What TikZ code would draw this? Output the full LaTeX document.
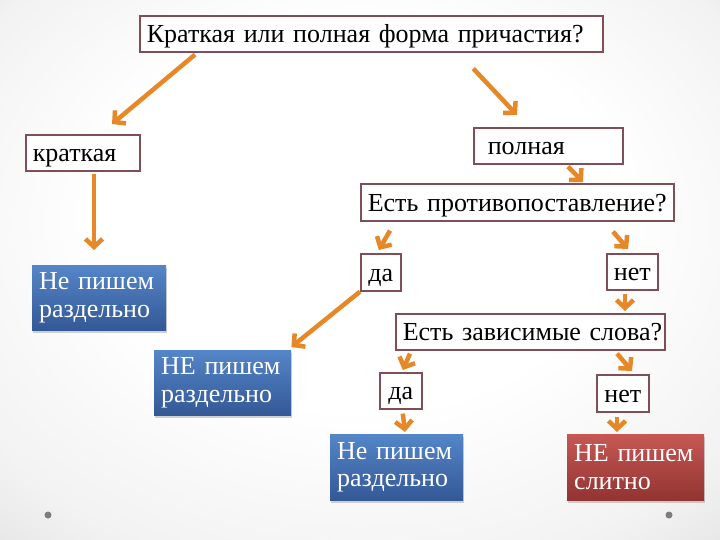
\documentclass[tikz,border=0pt]{standalone}
\usepackage{fontspec}
\setmainfont{Liberation Serif}
\usetikzlibrary{positioning, arrows.meta, shadows}
\definecolor{frameRed}{RGB}{128,78,88}
\definecolor{arrOrange}{RGB}{230,135,40}
\definecolor{blueTop}{RGB}{84,134,200}
\definecolor{blueBot}{RGB}{52,88,150}
\definecolor{redTop}{RGB}{198,88,84}
\definecolor{redBot}{RGB}{146,52,50}
\definecolor{dotGray}{RGB}{125,125,125}
\pgfdeclareradialshading{slideback}{\pgfpoint{0bp}{8bp}}{color(0bp)=(white); color(18bp)=(white); color(32bp)=(black!5); color(50bp)=(black!20)}
\tikzstyle{block}=[draw=frameRed,line width=1.6pt,fill=white,rectangle,anchor=north west,inner xsep=7pt,inner ysep=0pt,align=left,text height=20pt,text depth=2pt,font=\fontsize{26}{28}\selectfont]
\tikzstyle{small}=[block,align=center,inner xsep=0pt]
\tikzstyle{answer}=[rectangle,anchor=north west,inner xsep=7pt,inner ysep=0pt,align=left,text=white,font=\fontsize{26}{27.5}\selectfont,drop shadow={opacity=0.35,shadow xshift=1pt,shadow yshift=-2.5pt}]
\tikzstyle{sepbox}=[answer,top color=blueTop,bottom color=blueBot]
\tikzstyle{joinbox}=[answer,top color=redTop,bottom color=redBot]
\tikzstyle{arrow}=[draw=arrOrange,line width=4.5pt,-{Straight Barb[length=8pt,width=17pt]}]

\begin{document}
\begin{tikzpicture}[x=1pt,y=-1pt]
    \useasboundingbox (0,0) rectangle (720,540);
    \shade[shading=slideback] (0,0) rectangle (720,540);
    % questions
    \node[block,text width=449pt,minimum height=36pt] (q1) at (139,15) {\mbox{Краткая или полная форма причастия?}};
    \node[block,text width=100pt,minimum height=36pt] (krat) at (25,134) {краткая};
    \node[block,inner xsep=14pt,text width=121pt,minimum height=36pt] (poln) at (473,127) {полная};
    \node[block,text width=299pt,minimum height=37pt] (q2) at (360,183) {\mbox{Есть противопоставление?}};
    \node[small,minimum width=40pt,minimum height=37pt] (da1) at (360,253) {да};
    \node[small,minimum width=51pt,minimum height=36pt] (net1) at (606,253) {нет};
    \node[block,text width=255pt,minimum height=36pt] (q3) at (395,313) {\mbox{Есть зависимые слова?}};
    \node[small,minimum width=42pt,minimum height=36pt] (da2) at (379,372) {да};
    \node[small,minimum width=52pt,minimum height=37pt] (net2) at (596,374) {нет};
    % answers
    \node[sepbox,text width=120pt,minimum height=65pt] (ne1) at (32,265) {Не пишем\\раздельно};
    \node[sepbox,text width=123pt,minimum height=65pt] (ne2) at (154,350) {НЕ пишем\\раздельно};
    \node[sepbox,text width=119pt,minimum height=66pt] (ne3) at (330,434) {Не пишем\\раздельно};
    \node[joinbox,text width=123pt,minimum height=66pt] (slit) at (567,434) {НЕ пишем\\слитно};
    % arrows
    \draw[arrow] ([xshift=56pt,yshift=-2pt]q1.south west) -- ([xshift=87pt,yshift=10pt]krat.north west);
    \draw[arrow] ([xshift=102pt,yshift=-16pt]q1.south) -- ([xshift=44pt,yshift=12pt]poln.north west);
    \draw[arrow] ([xshift=69pt,yshift=-2pt]krat.south west) -- ([xshift=62pt,yshift=15pt]ne1.north west);
    \draw[arrow] ([xshift=95pt,yshift=-2pt]poln.south west) -- ([xshift=223pt,yshift=1pt]q2.north west);
    \draw[arrow] ([xshift=30pt,yshift=-9pt]q2.south west) -- ([xshift=-2pt,yshift=3pt]da1.north);
    \draw[arrow] ([xshift=253pt,yshift=-10pt]q2.south west) -- ([xshift=22pt,yshift=4pt]net1.north west);
    \draw[arrow] ([xshift=19pt,yshift=-3pt]net1.south west) -- ([xshift=230pt,yshift=2pt]q3.north west);
    \draw[arrow] (da1.south west) -- ([yshift=3pt]ne2.north east);
    \draw[arrow] ([xshift=15pt,yshift=-3pt]q3.south west) -- ([xshift=2pt,yshift=2pt]da2.north);
    \draw[arrow] ([xshift=222pt,yshift=-3pt]q3.south west) -- ([xshift=36pt,yshift=3pt]net2.north west);
    \draw[arrow] ([xshift=2pt,yshift=-4pt]da2.south) -- ([xshift=75pt,yshift=2pt]ne3.north west);
    \draw[arrow] ([xshift=21pt,yshift=-4pt]net2.south west) -- ([xshift=50pt,yshift=2pt]slit.north west);
    % slide dots
    \node[circle,fill=dotGray,inner sep=0pt,minimum size=7pt] (dotl) at (48,515) {};
    \node[circle,fill=dotGray,inner sep=0pt,minimum size=7pt] (dotr) at (669,515) {};
\end{tikzpicture}
\end{document}
